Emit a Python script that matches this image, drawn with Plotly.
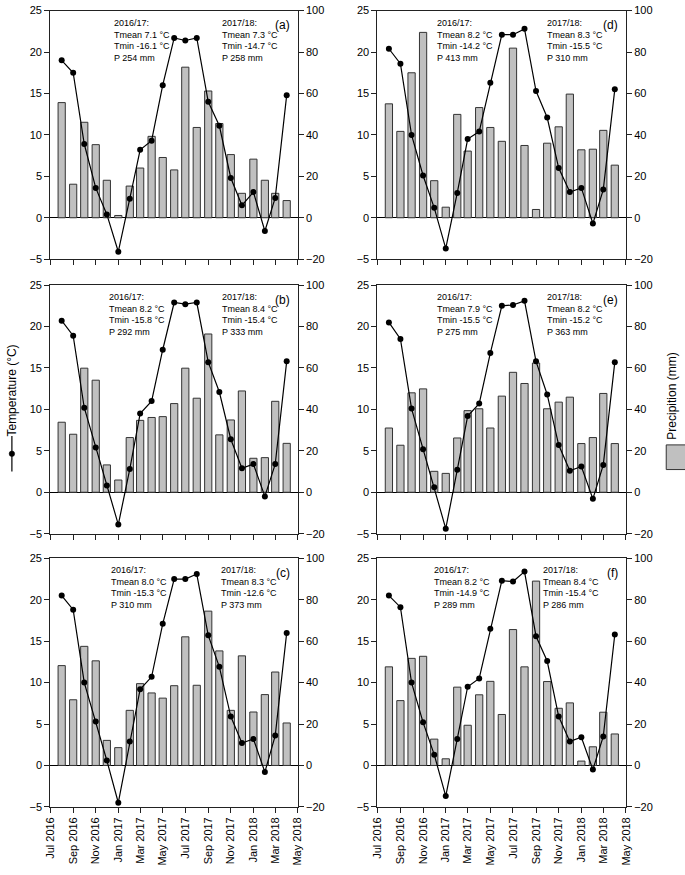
import plotly.graph_objects as go

W, H = 685, 875

months = ["2016-08-01", "2016-09-01", "2016-10-01", "2016-11-01", "2016-12-01",
          "2017-01-01", "2017-02-01", "2017-03-01", "2017-04-01", "2017-05-01",
          "2017-06-01", "2017-07-01", "2017-08-01", "2017-09-01", "2017-10-01",
          "2017-11-01", "2017-12-01", "2018-01-01", "2018-02-01", "2018-03-01",
          "2018-04-01"]

panel_labels = ["(a)", "(b)", "(c)", "(d)", "(e)", "(f)"]

temp_a = [19.0, 17.5, 8.9, 3.6, 0.4, -4.1, 2.3, 8.2, 9.3, 16.0, 21.7, 21.4, 21.7, 14.0, 11.1, 4.8, 1.5, 3.1, -1.6, 2.4, 14.8]
precip_a = [55.6, 16.2, 46.1, 35.3, 18.1, 1.1, 15.3, 24.0, 39.3, 29.1, 23.1, 72.7, 43.6, 61.2, 45.5, 30.5, 11.8, 28.3, 18.1, 11.8, 8.3]

temp_b = [20.7, 18.9, 10.2, 5.4, 0.8, -3.9, 2.8, 9.5, 11.0, 17.2, 22.9, 22.7, 22.9, 15.7, 12.1, 6.4, 2.9, 3.4, -0.5, 3.4, 15.8]
precip_b = [33.8, 28.0, 59.9, 54.1, 13.2, 5.9, 26.4, 34.7, 36.1, 36.5, 42.8, 59.9, 45.4, 76.4, 27.7, 34.9, 48.9, 16.4, 16.7, 43.9, 23.6]

temp_c = [20.5, 18.8, 10.0, 5.3, 0.6, -4.5, 2.9, 9.2, 10.7, 17.1, 22.5, 22.5, 23.1, 15.7, 11.9, 5.9, 2.7, 3.2, -0.8, 3.6, 16.0]
precip_c = [48.2, 31.7, 57.5, 50.5, 12.1, 8.6, 26.6, 39.5, 35.0, 32.5, 38.5, 62.1, 38.7, 74.5, 55.3, 26.6, 52.9, 25.8, 34.2, 45.1, 20.5]

temp_d = [20.4, 18.6, 10.0, 5.1, 1.2, -3.7, 3.0, 9.5, 10.4, 16.3, 22.1, 22.1, 22.8, 15.3, 12.1, 6.0, 3.1, 3.6, -0.7, 3.4, 15.5]
precip_d = [55.0, 41.7, 70.0, 89.5, 17.9, 5.1, 49.9, 32.2, 53.2, 43.6, 36.9, 81.9, 34.9, 4.0, 36.0, 43.9, 59.7, 32.8, 33.1, 42.2, 25.4]

temp_e = [20.5, 18.5, 10.1, 5.2, 0.6, -4.4, 2.7, 9.2, 10.7, 16.8, 22.5, 22.6, 23.1, 15.8, 11.8, 5.7, 2.6, 3.1, -0.8, 3.3, 15.7]
precip_e = [31.0, 22.7, 48.0, 49.9, 10.1, 9.1, 26.2, 39.4, 40.3, 31.0, 46.4, 57.9, 52.5, 62.4, 40.3, 43.5, 45.9, 23.5, 26.4, 47.7, 23.5]

temp_f = [20.5, 19.1, 10.0, 5.2, 1.3, -3.7, 3.2, 9.5, 10.5, 16.5, 22.3, 22.2, 23.4, 15.6, 12.6, 5.9, 2.9, 3.4, -0.5, 3.5, 15.8]
precip_f = [47.6, 31.3, 51.7, 52.7, 12.7, 3.2, 37.8, 19.4, 34.1, 40.6, 24.6, 65.6, 47.6, 89.0, 40.5, 27.6, 30.2, 2.1, 9.0, 25.7, 15.2]

# (Tmean, Tmin, P) for 2016/17 and 2017/18
stats_1617 = [("7.1", "-16.1", "254"), ("8.2", "-15.8", "292"), ("8.0", "-15.3", "310"),
              ("8.2", "-14.2", "413"), ("7.9", "-15.5", "275"), ("8.2", "-14.9", "289")]
stats_1718 = [("7.3", "-14.7", "258"), ("8.4", "-15.4", "333"), ("8.3", "-12.6", "373"),
              ("8.3", "-15.5", "310"), ("8.2", "-15.2", "363"), ("8.4", "-15.4", "286")]

temps = [temp_a, temp_b, temp_c, temp_d, temp_e, temp_f]
precips = [precip_a, precip_b, precip_c, precip_d, precip_e, precip_f]

FONT = "Arial, Liberation Sans, sans-serif"
AXC = "#222222"
BAR_FILL = "#c0c0c0"

col_px = [(45, 297), (378, 631)]
row_px = [(4.7, 256.7), (283, 535), (560, 812)]
txt1_x = [0.25, 0.23, 0.238, 0.23, 0.233, 0.218]
txt2_x = [0.686, 0.685, 0.683, 0.674, 0.673, 0.66]

fig = go.Figure()
layout = dict(width=W, height=H, autosize=False, margin=dict(l=0, r=0, t=0, b=0),
              paper_bgcolor="white", plot_bgcolor="white", showlegend=False,
              font=dict(family=FONT, size=11, color="black"))
annotations = []
shapes = []

for i in range(6):
    k = i + 1
    col = i // 3
    row = i % 3
    x0, x1 = col_px[col]
    yt, yb = row_px[row]
    xd = [x0 / W, x1 / W]
    yd = [1 - yb / H, 1 - yt / H]
    xa = "x" if k == 1 else f"x{k}"
    yb_name = "y" if k == 1 else f"y{k}"
    yt_name = f"y{k + 6}"

    fig.add_trace(go.Bar(x=months, y=precips[i], xaxis=xa, yaxis=yb_name,
                         width=19.5 * 86400000,
                         marker=dict(color=BAR_FILL, line=dict(color="#333333", width=1))))
    fig.add_trace(go.Scatter(x=months, y=temps[i], xaxis=xa, yaxis=yt_name,
                             mode="lines+markers",
                             line=dict(color="black", width=1.2),
                             marker=dict(color="black", size=6)))

    layout["xaxis" if k == 1 else f"xaxis{k}"] = dict(
        domain=xd, anchor=yb_name, type="date",
        range=["2016-07-01", "2018-05-01"], tick0="2016-07-01", dtick="M2",
        tickformat="%b %Y", tickangle=-90, ticks="outside", ticklen=5,
        tickcolor=AXC, showline=True, linecolor=AXC, linewidth=1, mirror=True,
        showgrid=False, zeroline=False, showticklabels=(row == 2),
        tickfont=dict(size=11, family=FONT))
    layout["yaxis" if k == 1 else f"yaxis{k}"] = dict(
        domain=yd, anchor=xa, side="right", range=[-20, 100], dtick=20,
        ticks="outside", ticklen=5, tickcolor=AXC, showline=True, linecolor=AXC,
        linewidth=1, showgrid=False, zeroline=False, tickfont=dict(size=11, family=FONT))
    layout[f"yaxis{k + 6}"] = dict(
        overlaying=yb_name, anchor=xa, side="left", range=[-5, 25], dtick=5,
        ticks="outside", ticklen=5, tickcolor=AXC, showline=True, linecolor=AXC,
        linewidth=1, showgrid=False, zeroline=True, zerolinecolor="black",
        zerolinewidth=1, tickfont=dict(size=11, family=FONT))

    s1 = stats_1617[i]
    s2 = stats_1718[i]
    for tx, s, season in ((txt1_x[i], s1, "2016/17:"), (txt2_x[i], s2, "2017/18:")):
        annotations.append(dict(
            xref=f"{xa} domain", yref=f"{yb_name} domain", x=tx, y=1 - 5 / 252,
            xanchor="left", yanchor="top", align="left", showarrow=False,
            text=f"{season}<br>Tmean {s[0]} °C<br>Tmin -{s[1][1:]} °C<br>P {s[2]} mm",
            font=dict(size=9, family=FONT)))
    annotations.append(dict(
        xref=f"{xa} domain", yref=f"{yb_name} domain", x=0.975, y=1 - 15 / 252,
        xanchor="right", yanchor="middle", showarrow=False, text=panel_labels[i],
        font=dict(size=12, family=FONT)))

# axis titles with legend symbols
annotations.append(dict(xref="paper", yref="paper", x=6 / W, y=1 - 390 / H,
                        xanchor="center", yanchor="middle", textangle=-90,
                        showarrow=False, text="Temperature (°C)",
                        font=dict(size=12, family=FONT)))
shapes.append(dict(type="line", xref="paper", yref="paper",
                   x0=6 / W, x1=6 / W, y0=1 - 436 / H, y1=1 - 472 / H,
                   line=dict(color="black", width=1.2)))
shapes.append(dict(type="circle", xref="paper", yref="paper",
                   x0=3.2 / W, x1=8.8 / W, y0=1 - 451.2 / H, y1=1 - 456.8 / H,
                   fillcolor="black", line=dict(color="black", width=0.5)))

annotations.append(dict(xref="paper", yref="paper", x=677 / W, y=1 - 396 / H,
                        xanchor="center", yanchor="middle", textangle=-90,
                        showarrow=False, text="Precipition (mm)", borderpad=0,
                        font=dict(size=12, family=FONT)))
shapes.append(dict(type="rect", xref="paper", yref="paper",
                   x0=672 / W, x1=692 / W, y0=1 - 445 / H, y1=1 - 470 / H,
                   fillcolor=BAR_FILL, line=dict(color="#333333", width=1)))

layout["annotations"] = annotations
layout["shapes"] = shapes
layout["bargap"] = 0
fig.update_layout(**layout)

fig.write_html("out.html",
               config={"displayModeBar": False, "staticPlot": True},
               post_script="document.body.style.margin='0px';document.body.style.padding='0px';")
